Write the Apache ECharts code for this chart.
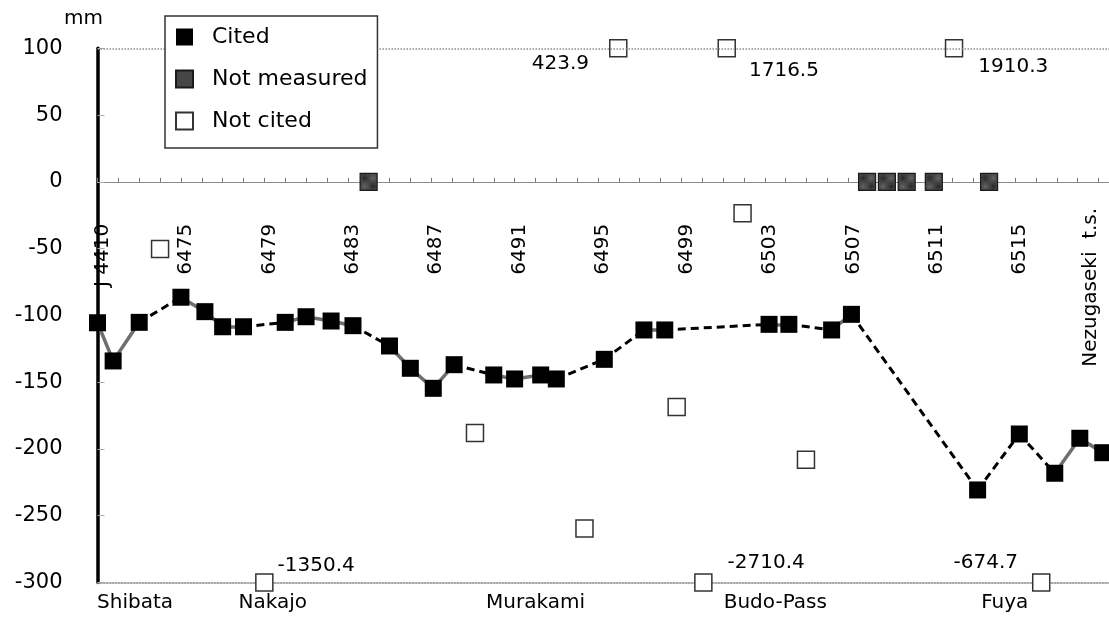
<!DOCTYPE html>
<html>
<head>
<meta charset="utf-8">
<script src="https://cdn.jsdelivr.net/npm/echarts@6/dist/echarts.min.js"></script>
<style>
  html, body { margin: 0; padding: 0; background: #fff; }
  #chart { width: 1109px; height: 617px; }
</style>
</head>
<body>
<div id="chart"></div>
<script>
// Route position is counted in benchmarks from J 4410 (0) to Nezugaseki t.s. (48)
const benchmarkTicks = [0, 4, 8, 12, 16, 20, 24, 28, 32, 36, 40, 44, 48];
const benchmarkNames = ['J 4410', '6475', '6479', '6483', '6487', '6491', '6495',
                        '6499', '6503', '6507', '6511', '6515', 'Nezugaseki  t.s.'];

const stationPos   = [1.8, 8.4, 21.0, 32.5, 43.5];
const stationNames = ['Shibata', 'Nakajo', 'Murakami', 'Budo-Pass', 'Fuya'];

// Cited benchmarks: route position and vertical displacement (mm)
const citedPos = [0, 0.75, 2, 4, 5.15, 6, 7, 9, 10, 11.2,
                  12.25, 14, 15, 16.1, 17.1, 19, 20, 21.25, 22, 24.3,
                  26.2, 27.2, 32.2, 33.15, 35.2, 36.15, 42.2, 44.2, 45.9, 47.1,
                  48.2];
const citedVal = [-105.5, -134.1, -105.2, -86.4, -97.2, -108.5, -108.5, -105.2, -101.0, -104.2,
                  -107.7, -122.9, -139.6, -154.6, -136.9, -144.6, -147.6, -144.6, -147.6, -132.9,
                  -110.9, -110.9, -106.7, -106.7, -110.9, -99.2, -230.7, -188.8, -218.2, -192.0,
                  -202.8];

// Benchmarks without a measurement (shown on the zero line)
const notMeasuredPos = [13, 36.9, 37.85, 38.8, 40.1, 42.75];
const notMeasuredVal = [0, 0, 0, 0, 0, 0];

// Benchmarks measured but not cited
const notCitedPos = [3, 8.0, 18.1, 23.35, 24.97, 27.77, 29.05, 30.17, 30.93, 33.97, 41.07, 45.25];
const notCitedVal = [-50.3, -1350.4, -188, -259.5, 423.9, -168.6, -2710.4, 1716.5, -23.5, -208, 1910.3, -674.7];

const yTicksMin = -300, yTicksMax = 100, yStep = 50;
const routeMin = 0, routeMax = 48.5;

const FONT = 'DejaVu Sans';
const INK = '#000';

// plot frame shared by the data grid and the zero-line scale
const PLOT_LEFT = 97.5, PLOT_TOP = 48.3, PLOT_BOTTOM = 34.5;
const PLOT_H = 617 - PLOT_TOP - PLOT_BOTTOM;
const ZERO_H = PLOT_H * yTicksMax / (yTicksMax - yTicksMin);

// Where the value callout of a marker pinned to the plot edge is written
const calloutPlacement = {
  '-1350.4': { position: 'right', distance: 4,  dy: -17 },
  '423.9':   { position: 'left',  distance: 20, dy: 15 },
  '-2710.4': { position: 'right', distance: 15, dy: -20 },
  '1716.5':  { position: 'right', distance: 13, dy: 22 },
  '1910.3':  { position: 'right', distance: 15, dy: 18 },
  '-674.7':  { position: 'left',  distance: 14, dy: -20 }
};

// Dotted fill used for the "not measured" markers
function stipplePattern() {
  const c = document.createElement('canvas');
  c.width = 2; c.height = 2;
  const g = c.getContext('2d');
  g.fillStyle = '#666'; g.fillRect(0, 0, 2, 2);
  g.fillStyle = '#262626'; g.fillRect(0, 0, 1, 1); g.fillRect(1, 1, 1, 1);
  return c;
}

// Neighbouring cited benchmarks are joined by a solid line, gaps by a dashed one
const solidLinks = [], dashedLinks = [];
for (let i = 1; i < citedPos.length; i++) {
  const seg = { coords: [[citedPos[i - 1], citedVal[i - 1]], [citedPos[i], citedVal[i]]] };
  (citedPos[i] - citedPos[i - 1] < 1.5 ? solidLinks : dashedLinks).push(seg);
}

const notCitedData = notCitedPos.map((x, i) => {
  const v = notCitedVal[i];
  const shown = Math.min(yTicksMax, Math.max(yTicksMin, v));
  const item = { value: [x, shown, v] };
  if (shown !== v) {
    const p = calloutPlacement[String(v)];
    item.label = {
      show: true,
      position: p.position,
      distance: p.distance,
      offset: [0, p.dy],
      formatter: (q) => q.value[2].toFixed(1),
      fontFamily: FONT, fontSize: 20, color: INK, opacity: 1
    };
  }
  return item;
});

const chart = echarts.init(document.getElementById('chart'), null, { renderer: 'canvas' });

chart.setOption({
  animation: false,
  backgroundColor: '#fff',
  grid: [
    { left: PLOT_LEFT, right: 0, top: PLOT_TOP, bottom: PLOT_BOTTOM, outerBoundsMode: 'none' },
    // upper part of the frame, whose bottom edge is the zero line
    { left: PLOT_LEFT, right: 0, top: PLOT_TOP, height: ZERO_H, outerBoundsMode: 'none' }
  ],
  legend: {
    orient: 'vertical',
    left: 165, top: 16,
    padding: [9, 10, 15, 10],
    itemWidth: 17, itemHeight: 17, itemGap: 18,
    icon: 'rect',
    selectedMode: false,
    backgroundColor: '#fff',
    borderColor: '#333', borderWidth: 1.5, borderRadius: 0,
    textStyle: { fontFamily: FONT, fontSize: 22, color: INK, lineHeight: 24, padding: [0, 0, 0, 14] },
    data: ['Cited', 'Not measured', 'Not cited'],
    z: 10
  },
  xAxis: [
    {
      // station names along the bottom edge
      gridIndex: 0, type: 'value', position: 'bottom', min: routeMin, max: routeMax,
      axisLine: { onZero: false, lineStyle: { color: '#8a8a8a', width: 1.5, type: 'dotted' } },
      axisTick: { show: false },
      splitLine: { show: false },
      axisLabel: {
        customValues: stationPos,
        formatter: (v) => stationNames[stationPos.indexOf(v)] || '',
        fontFamily: FONT, fontSize: 20, color: INK, margin: 10
      }
    },
    {
      // zero line with benchmark numbers hanging below it
      gridIndex: 1, type: 'value', position: 'bottom', min: routeMin, max: routeMax, interval: 1,
      axisLine: { onZero: false, lineStyle: { color: '#8a8a8a', width: 1 } },
      axisTick: { show: true, inside: true, length: 4, lineStyle: { color: '#777', width: 1 } },
      splitLine: { show: false },
      axisLabel: {
        rotate: 90,
        margin: 26,
        customValues: benchmarkTicks,
        formatter: (v) => {
          const i = benchmarkTicks.indexOf(v);
          if (i < 0) return '';
          return (i === benchmarkTicks.length - 1 ? '{n|' : '{b|') + benchmarkNames[i] + '}';
        },
        rich: {
          b: { fontFamily: FONT, fontSize: 20, color: INK, padding: [10, 16, 0, 0] },
          n: { fontFamily: FONT, fontSize: 20, color: INK, padding: [0, 0, 16, 0] }
        }
      }
    }
  ],
  yAxis: [
    {
      gridIndex: 0, type: 'value', min: yTicksMin, max: yTicksMax, interval: yStep,
      name: 'mm', nameLocation: 'end', nameGap: 20,
      nameTextStyle: { fontFamily: FONT, fontSize: 20, color: INK, padding: [0, 28, 0, 0] },
      axisLine: { onZero: false, lineStyle: { color: '#000', width: 3.5 } },
      axisTick: { show: true, inside: true, length: 7, lineStyle: { color: '#aaa', width: 1 } },
      splitLine: { show: false },
      axisLabel: { fontFamily: FONT, fontSize: 21, color: INK, margin: 35 }
    },
    {
      gridIndex: 1, type: 'value', min: 0, max: yTicksMax, show: false
    }
  ],
  series: [
    {
      type: 'lines', coordinateSystem: 'cartesian2d', xAxisIndex: 0, yAxisIndex: 0,
      silent: true, z: 2,
      lineStyle: { color: '#6e6e6e', width: 3.5, type: 'solid', opacity: 1 },
      data: solidLinks
    },
    {
      type: 'lines', coordinateSystem: 'cartesian2d', xAxisIndex: 0, yAxisIndex: 0,
      silent: true, z: 2,
      lineStyle: { color: '#000', width: 3, type: [8, 5], opacity: 1 },
      data: dashedLinks
    },
    {
      name: 'Not cited', type: 'scatter', xAxisIndex: 0, yAxisIndex: 0,
      symbol: 'rect', symbolSize: 17, clip: false, z: 4,
      itemStyle: { color: '#fff', borderColor: '#333', borderWidth: 1.5, opacity: 1 },
      data: notCitedData,
      markLine: {
        silent: true, symbol: 'none', label: { show: false },
        lineStyle: { color: '#8a8a8a', width: 1.5, type: 'dotted' },
        data: [{ yAxis: yTicksMax }]
      }
    },
    {
      name: 'Not measured', type: 'scatter', xAxisIndex: 0, yAxisIndex: 0,
      symbol: 'rect', symbolSize: 17, clip: false, z: 5,
      itemStyle: { color: { image: stipplePattern(), repeat: 'repeat' }, borderColor: '#1a1a1a', borderWidth: 1.2, opacity: 1 },
      data: notMeasuredPos.map((x, i) => [x, notMeasuredVal[i]])
    },
    {
      name: 'Cited', type: 'scatter', xAxisIndex: 0, yAxisIndex: 0,
      symbol: 'rect', symbolSize: 17, clip: false, z: 6,
      itemStyle: { color: '#000', opacity: 1 },
      data: citedPos.map((x, i) => [x, citedVal[i]])
    }
  ]
});
</script>
</body>
</html>
